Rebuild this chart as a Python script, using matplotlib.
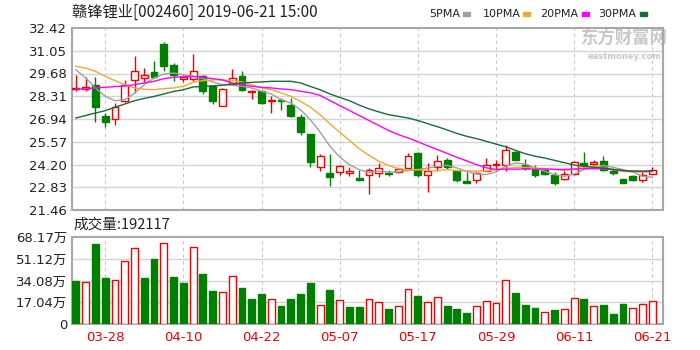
import matplotlib.pyplot as plt
from matplotlib.patches import Rectangle

plt.rcParams['font.family'] = ['DejaVu Sans', 'Noto Sans CJK SC']

TITLE = "赣锋锂业[002460] 2019-06-21 15:00"
VOL_TEXT = "成交量:192117"

dates = ["03-25", "03-26", "03-27", "03-28", "03-29", "04-01", "04-02", "04-03", "04-04", "04-08",
         "04-09", "04-10", "04-11", "04-12", "04-15", "04-16", "04-17", "04-18", "04-19", "04-22",
         "04-23", "04-24", "04-25", "04-26", "04-29", "04-30", "05-06", "05-07", "05-08", "05-09",
         "05-10", "05-13", "05-14", "05-15", "05-16", "05-17", "05-20", "05-21", "05-22", "05-23",
         "05-24", "05-27", "05-28", "05-29", "05-30", "05-31", "06-03", "06-04", "06-05", "06-06",
         "06-10", "06-11", "06-12", "06-13", "06-14", "06-17", "06-18", "06-19", "06-20", "06-21"]

opens = [28.73, 28.77, 28.97, 27.10, 26.94, 28.00, 29.31, 29.41, 29.75, 31.48,
         30.17, 29.37, 29.37, 29.51, 28.95, 27.70, 29.05, 29.51, 28.57, 28.61,
         28.00, 28.10, 27.80, 27.04, 26.04, 24.03, 23.67, 23.75, 23.67, 23.39,
         23.59, 23.69, 23.69, 23.75, 23.99, 24.89, 23.59, 24.03, 24.49, 23.83,
         23.19, 23.29, 23.83, 24.15, 24.15, 24.95, 24.15, 23.95, 23.89, 23.59,
         23.35, 23.63, 24.29, 24.23, 24.43, 23.79, 23.35, 23.53, 23.29, 23.65]
highs = [29.57, 29.45, 29.47, 27.30, 27.90, 29.31, 30.71, 30.01, 30.41, 31.58,
         30.33, 29.61, 30.87, 29.61, 29.01, 28.81, 29.97, 29.85, 28.71, 28.71,
         28.31, 28.20, 28.20, 27.24, 26.04, 24.83, 24.83, 24.15, 24.03, 23.89,
         23.99, 24.29, 23.89, 23.99, 24.89, 24.95, 24.29, 24.79, 24.59, 23.89,
         23.75, 23.75, 24.59, 24.49, 25.35, 24.99, 24.55, 24.15, 23.99, 23.75,
         23.79, 24.43, 24.95, 24.49, 24.69, 23.99, 23.35, 23.59, 23.75, 24.03]
lows = [28.61, 28.65, 26.76, 26.46, 26.56, 27.96, 28.51, 29.15, 29.41, 29.85,
        29.21, 29.17, 29.21, 28.45, 27.84, 27.70, 29.01, 28.65, 28.16, 27.84,
        27.30, 27.50, 27.04, 25.96, 24.03, 23.83, 22.89, 23.55, 23.49, 23.19,
        22.42, 23.43, 23.49, 23.69, 23.89, 23.43, 22.52, 23.79, 23.95, 23.15,
        23.11, 23.09, 23.79, 23.89, 23.83, 24.45, 23.89, 23.43, 23.59, 22.99,
        23.29, 23.59, 24.15, 24.15, 23.79, 23.55, 23.07, 23.23, 23.15, 23.63]
closes = [28.81, 28.87, 27.68, 26.76, 27.66, 29.01, 29.81, 29.57, 29.49, 30.11,
          29.61, 29.47, 29.85, 28.65, 28.00, 28.75, 29.41, 28.71, 28.65, 27.90,
          28.10, 28.00, 27.10, 26.16, 24.33, 24.69, 23.43, 24.09, 23.79, 23.27,
          23.89, 23.99, 23.63, 23.91, 24.69, 23.59, 23.83, 24.43, 24.03, 23.29,
          23.11, 23.69, 24.15, 24.23, 25.09, 24.49, 23.99, 23.59, 23.63, 23.09,
          23.63, 24.35, 24.19, 24.35, 23.89, 23.71, 23.07, 23.27, 23.59, 23.89]
prev_close = 29.10

# volume in 万 shares
volumes = [33.8, 32.7, 62.5, 35.9, 34.5, 49.7, 59.7, 35.9, 50.8, 63.3,
           36.9, 31.9, 60.7, 39.0, 25.9, 24.9, 37.9, 28.0, 19.9, 23.3,
           19.9, 14.1, 19.9, 23.3, 31.9, 15.2, 27.0, 18.8, 13.1, 13.1,
           19.6, 17.5, 11.8, 13.9, 27.5, 21.7, 17.5, 21.5, 13.9, 11.8,
           8.9, 13.9, 18.3, 16.7, 34.5, 24.6, 15.2, 12.8, 9.7, 11.0,
           11.8, 20.7, 19.9, 13.9, 14.9, 7.9, 15.7, 12.8, 15.7, 17.8]

ma5 = [29.91, 29.41, 28.81, 28.31, 28.04, 28.10, 28.50, 29.01, 29.41, 29.65,
       29.71, 29.61, 29.51, 29.37, 29.17, 29.01, 28.97, 28.91, 28.81, 28.61,
       28.45, 28.10, 27.90, 27.50, 26.90, 26.15, 25.30, 24.65, 24.19, 23.89,
       23.72, 23.80, 23.75, 23.75, 23.83, 23.89, 23.99, 24.09, 24.15, 23.99,
       23.79, 23.63, 23.59, 23.75, 24.09, 24.29, 24.23, 23.99, 23.79, 23.59,
       23.49, 23.63, 23.89, 24.03, 24.15, 24.03, 23.89, 23.75, 23.49, 23.43]
ma10 = [30.11, 30.01, 29.81, 29.51, 29.25, 29.01, 28.81, 28.73, 28.71, 28.77,
        28.81, 28.91, 29.15, 29.25, 29.29, 29.30, 29.25, 29.17, 29.01, 28.81,
        28.71, 28.51, 28.31, 28.00, 27.65, 27.20, 26.65, 26.15, 25.65, 25.15,
        24.75, 24.40, 24.15, 23.95, 23.89, 23.89, 23.83, 23.83, 23.89, 23.83,
        23.82, 23.80, 23.80, 23.89, 23.95, 24.03, 24.03, 23.99, 23.95, 23.89,
        23.85, 23.89, 24.03, 24.09, 24.03, 23.89, 23.78, 23.76, 23.75, 23.78]
ma20 = [28.75, 28.75, 28.81, 28.85, 28.89, 28.93, 29.01, 29.11, 29.21, 29.37,
        29.45, 29.49, 29.51, 29.45, 29.37, 29.29, 29.11, 29.01, 28.91, 28.85,
        28.81, 28.75, 28.71, 28.61, 28.52, 28.36, 28.05, 27.75, 27.45, 27.15,
        26.85, 26.55, 26.25, 26.00, 25.80, 25.57, 25.33, 25.10, 24.87, 24.63,
        24.42, 24.19, 24.00, 23.90, 23.92, 23.92, 23.93, 23.92, 23.93, 23.91,
        23.90, 23.93, 23.95, 23.95, 23.93, 23.89, 23.84, 23.80, 23.78, 23.78]
ma30 = [27.00, 27.15, 27.30, 27.44, 27.65, 27.84, 28.04, 28.18, 28.30, 28.45,
        28.60, 28.70, 28.87, 28.90, 28.94, 28.97, 29.05, 29.10, 29.15, 29.17,
        29.21, 29.21, 29.21, 29.11, 28.90, 28.70, 28.45, 28.24, 28.04, 27.78,
        27.55, 27.37, 27.20, 27.10, 27.00, 26.85, 26.66, 26.48, 26.28, 26.07,
        25.90, 25.76, 25.60, 25.43, 25.27, 25.05, 24.85, 24.70, 24.59, 24.45,
        24.31, 24.17, 24.09, 24.03, 23.99, 23.90, 23.84, 23.80, 23.80, 23.83]

price_ticks = [21.46, 22.83, 24.20, 25.57, 26.94, 28.31, 29.68, 31.05, 32.42]
vol_ticks = [0, 17.04, 34.08, 51.12, 68.17]
vol_labels = ["0", "17.04万", "34.08万", "51.12万", "68.17万"]
date_ticks = ["03-28", "04-10", "04-22", "05-07", "05-17", "05-29", "06-11", "06-21"]
legend_names = ["5PMA", "10PMA", "20PMA", "30PMA"]

RED = "#f00000"
GREEN = "#008000"
FRAME = "#a8a8a8"
GRID = "#d4d4d4"
MA_COLORS = ["#a0a0a0", "#f0a830", "#ff00ff", "#1a6b3c"]

fig = plt.figure(figsize=(7, 3.5), dpi=100)
ax = fig.add_axes([72 / 700, 1 - 210 / 350, 591 / 700, 182 / 350])
axv = fig.add_axes([72 / 700, 1 - 324 / 350, 591 / 700, 87 / 350])

x = list(range(len(dates)))
tick_pos = [dates.index(d) for d in date_ticks]

for a in (ax, axv):
    a.set_xlim(-0.4, 60.1)
    for s in a.spines.values():
        s.set_color(FRAME)
        s.set_linewidth(1.5)
    a.tick_params(length=0, labelsize=9.5, colors="#222222")
    for p in tick_pos:
        a.axvline(p, color="#c8c8c8", lw=0.8, ls=(0, (3, 3)), zorder=0)

# price panel
ax.set_ylim(price_ticks[0], price_ticks[-1])
ax.set_yticks(price_ticks)
ax.set_yticklabels([f"{v:.2f}" for v in price_ticks])
ax.set_xticks([])
for v in price_ticks[1:-1]:
    ax.axhline(v, color=GRID, lw=1, zorder=0)

for i in x:
    o, h, l, c = opens[i], highs[i], lows[i], closes[i]
    up = c >= o
    col = RED if up else GREEN
    ax.vlines(i, l, h, color=col, lw=1, zorder=2)
    body = max(abs(c - o), 0.04)
    ax.bar(i, body, bottom=min(o, c), width=0.7,
           color="white" if up else GREEN, edgecolor=col, lw=1, zorder=3)

for series, col in zip([ma5, ma10, ma20, ma30], MA_COLORS):
    ax.plot(x, series, color=col, lw=1, zorder=4)

# watermark
ax.text(56.2, 31.85, "东方财富网", family=["Noto Sans CJK SC"], fontsize=12.5,
        fontweight="bold", color="#c8c8c8", ha="center", va="center", zorder=1)
ax.text(56.2, 30.72, "eastmoney.com", fontsize=6, fontweight="bold",
        color="#c8c8c8", ha="center", va="center", zorder=1)

# volume panel
axv.set_ylim(0, vol_ticks[-1])
axv.set_yticks(vol_ticks)
axv.set_yticklabels(vol_labels)
for v in vol_ticks[1:-1]:
    axv.axhline(v, color=GRID, lw=1, zorder=0)

last = prev_close
for i in x:
    up = closes[i] > last
    last = closes[i]
    axv.bar(i, volumes[i], width=0.7, color="white" if up else GREEN,
            edgecolor=RED if up else GREEN, lw=1, zorder=3)

axv.set_xticks(tick_pos)
axv.set_xticklabels(date_ticks, color=RED, fontsize=9.5)
axv.tick_params(axis="x", pad=5)

# header texts
fig.text(72 / 700, 1 - 12 / 350, TITLE, family=["Noto Sans CJK SC"], fontsize=11,
         ha="left", va="center", color="#222222")
fig.text(73 / 700, 1 - 225 / 350, VOL_TEXT, family=["Noto Sans CJK SC"], fontsize=10.5,
         ha="left", va="center", color="#222222")

# legend: label start and colour-swatch position in pixels
text_px = [429, 483, 540, 598]
swatch_px = [463, 523, 582, 640]
for name, col, tx, sx in zip(legend_names, MA_COLORS, text_px, swatch_px):
    fig.text(tx / 700, 1 - 14 / 350, name, fontsize=8, ha="left", va="center",
             color="#222222")
    fig.patches.append(Rectangle((sx / 700, 1 - 15.5 / 350), 7 / 700, 3.5 / 350,
                                 transform=fig.transFigure, color=col))

fig.savefig("out.png", dpi=100)
